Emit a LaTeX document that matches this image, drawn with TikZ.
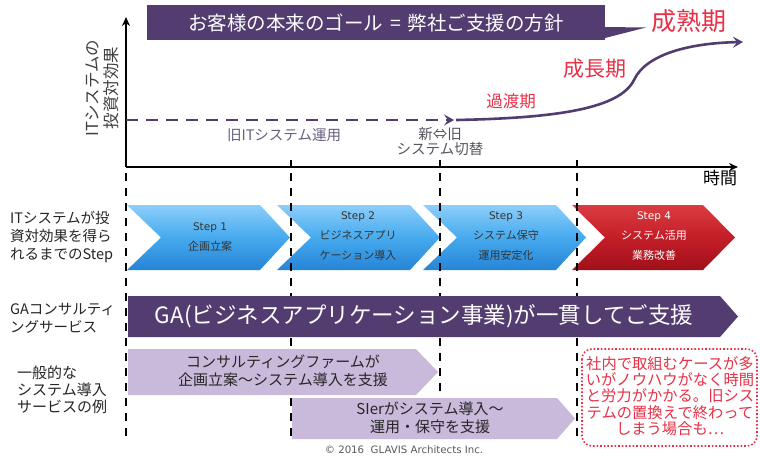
\documentclass[tikz,border=0pt]{standalone}
\usepackage{fontspec}
\setmainfont{Noto Sans CJK JP}
\newfontfamily\latinfont{DejaVu Sans}
\usetikzlibrary{arrows.meta}
\definecolor{dpurple}{RGB}{82,60,112}
\definecolor{lpurple}{RGB}{201,185,219}
\definecolor{jred}{RGB}{232,48,70}
\definecolor{tgray}{RGB}{85,85,95}
\definecolor{pgray}{RGB}{105,95,128}
\definecolor{bluetop}{RGB}{140,206,250}
\definecolor{bluemid}{RGB}{70,170,238}
\definecolor{bluebot}{RGB}{38,132,214}
\definecolor{redtop}{RGB}{218,60,66}
\definecolor{redmid}{RGB}{196,30,40}
\definecolor{redbot}{RGB}{160,16,26}
\tikzset{
  lbl/.style={align=left, anchor=west, inner sep=0pt, text=black!85},
  vdash/.style={line width=2pt, dash pattern=on 8pt off 7pt},
  axisline/.style={line width=2pt, -{Stealth[length=9pt,width=8pt]}},
  ptrline/.style={dpurple, line width=2.6pt},
  bluechev/.style={top color=bluetop, bottom color=bluebot, middle color=bluemid},
  redchev/.style={top color=redtop, bottom color=redbot, middle color=redmid},
  steptxt/.style={align=center, inner sep=0pt, text=black!80, font=\fontsize{11}{20}\selectfont},
  bartxt/.style={align=center, inner sep=0pt, text=black!85, font=\fontsize{15}{18.5}\selectfont},
  redtxt/.style={text=jred, inner sep=0pt},
}
\begin{document}
\begin{tikzpicture}[x=1pt,y=-1pt]
\useasboundingbox (0,0) rectangle (760,459);
\fill[white] (0,0) rectangle (760,459);

% ---- goal callout
\fill[dpurple] (605,27) -- (646,27.5) -- (605,38) -- cycle;
\node[fill=dpurple, minimum width=458pt, minimum height=35pt, inner sep=0pt,
      text=white, font=\fontsize{19.5}{22}\selectfont] (goal) at (376,22.5)
      {お客様の本来のゴール\hspace{0.35em}=\hspace{0.35em}弊社ご支援の方針};

% ---- axes
\coordinate (O) at (126,167);
\coordinate (Ytop) at (126,17);
\coordinate (Xend) at (738,167);
\draw[axisline] (O) -- (Ytop);
\draw[axisline] (O) -- (Xend);
\foreach \x/\n in {291/a,440/b,577/c}{
  \coordinate (tk\n1) at (\x,160);
  \coordinate (tk\n2) at (\x,167);
  \draw[line width=2pt] (tk\n1) -- (tk\n2);
}
\node[inner sep=0pt, font=\fontsize{17}{20}\selectfont] (time) at (720,178) {時間};
\node[rotate=90, align=center, inner sep=0pt, text=black!75, font=\fontsize{16.5}{19}\selectfont] (ylab) at (102,88) {ITシステムの\\投資対効果};

% ---- effect curve
\coordinate (d0) at (126,120);
\coordinate (d1) at (454,120);
\draw[ptrline, dash pattern=on 12pt off 8pt, -{Stealth[length=10pt,width=11pt,inset=4pt]}] (d0) -- (d1);
\coordinate (c0) at (456,120);
\coordinate (c1) at (634,80);
\coordinate (c2) at (743,42);
\draw[ptrline, -{Stealth[length=10pt,width=11pt,inset=4pt]}] (c0) .. controls (560,118) and (620,108) .. (c1) .. controls (646,54) and (690,43) .. (c2);

\node[inner sep=0pt, text=pgray, font=\fontsize{14.5}{17}\selectfont] (old) at (284,135) {旧ITシステム運用};
\node[inner sep=0pt, align=center, text=tgray, font=\fontsize{14.5}{15}\selectfont] (swap) at (440,142) {新⇔旧\\システム切替};
\node[redtxt, font=\fontsize{25}{28}\selectfont] (mature) at (689,21) {成熟期};
\node[redtxt, font=\fontsize{21}{24}\selectfont] (growth) at (595,69) {成長期};
\node[redtxt, font=\fontsize{16.5}{19}\selectfont] (trans) at (511,101) {過渡期};

% ---- step chevrons
\shade[bluechev] (127,205) -- (260,205) -- (290,237.5) -- (260,270) -- (127,270) -- (161,237.5) -- cycle;
\shade[bluechev] (277,205) -- (410,205) -- (440,237.5) -- (410,270) -- (277,270) -- (311,237.5) -- cycle;
\shade[bluechev] (423,205) -- (556,205) -- (586,237.5) -- (556,270) -- (423,270) -- (457,237.5) -- cycle;
\shade[redchev] (572,205) -- (703,205) -- (735,237.5) -- (703,270) -- (572,270) -- (605,237.5) -- cycle;
\node[steptxt] (s1) at (210,237) {{\latinfont\fontsize{10.5}{20}\selectfont Step 1}\\企画立案};
\node[steptxt] (s2) at (358,236) {{\latinfont\fontsize{10.5}{20}\selectfont Step 2}\\ビジネスアプリ\\ケーション導入};
\node[steptxt] (s3) at (506,236) {{\latinfont\fontsize{10.5}{20}\selectfont Step 3}\\システム保守\\運用安定化};
\node[steptxt, text=white] (s4) at (654,236) {{\latinfont\fontsize{10.5}{20}\selectfont Step 4}\\システム活用\\業務改善};

% ---- vertical dashed guides
\foreach \x/\n in {126/a,291/b,440/c,577/d}{
  \coordinate (g\n1) at (\x,173);
  \coordinate (g\n2) at (\x,442);
  \draw[vdash] (g\n1) -- (g\n2);
}

% ---- GA bar
\fill[dpurple] (128,296) -- (720,296) -- (738,316.5) -- (720,337) -- (128,337) -- cycle;
\node[inner sep=0pt, text=white, font=\fontsize{22.5}{25}\selectfont] (ga) at (424,316) {GA(ビジネスアプリケーション事業)が一貫してご支援};

% ---- general services
\fill[lpurple] (128,349) -- (416,349) -- (438,372) -- (416,395) -- (128,395) -- cycle;
\node[bartxt] (cons) at (283,371) {コンサルティングファームが\\企画立案～システム導入を支援};
\fill[lpurple] (292,398) -- (557,398) -- (575,418.5) -- (557,439) -- (292,439) -- cycle;
\node[bartxt] (sier) at (430,418) {SIerがシステム導入～\\運用・保守を支援};

% ---- red note
\draw[jred, line width=1.6pt, dotted, rounded corners=10pt] (582,349) rectangle (757,446);
\node[redtxt, align=center, font=\fontsize{15.3}{16.3}\selectfont] (note) at (670,396)
  {社内で取組むケースが多\\いがノウハウがなく時間\\と労力がかかる。旧シス\\テムの置換えで終わって\\しまう場合も…};

% ---- left labels
\node[lbl, font=\fontsize{14.5}{18}\selectfont] (l1) at (10,237) {ITシステムが投\\資対効果を得ら\\れるまでのStep};
\node[lbl, font=\fontsize{14.5}{18}\selectfont] (l2) at (10,318) {GAコンサルティ\\ングサービス};
\node[lbl, font=\fontsize{15}{17}\selectfont] (l3) at (17,390) {一般的な\\システム導入\\サービスの例};

% ---- copyright
\node[inner sep=0pt, text=black!65, font=\latinfont\fontsize{10.2}{12}\selectfont] (copy) at (404,450) {© 2016\ \ GLAVIS Architects Inc.};
\end{tikzpicture}
\end{document}
